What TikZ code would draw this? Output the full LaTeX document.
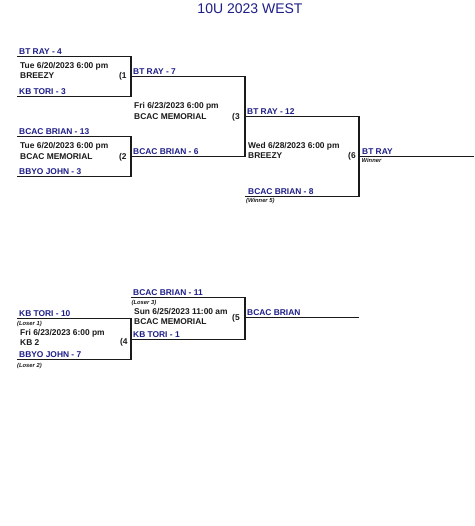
\documentclass[tikz,border=0pt]{standalone}
\usepackage{fontspec}
\setmainfont{Liberation Sans}
\definecolor{navy}{HTML}{1E1E88}
\definecolor{ink}{HTML}{1A1A1A}
\begin{document}
\begin{tikzpicture}[x=1pt,y=-1pt,
  team/.style={font=\bfseries\fontsize{8.4}{9}\selectfont, text=navy, anchor=base west, inner sep=0pt},
  info/.style={font=\bfseries\fontsize{8.4}{9}\selectfont, text=ink, anchor=base west, inner sep=0pt},
  note/.style={font=\bfseries\itshape\fontsize{5.8}{6}\selectfont, text=ink, anchor=base west, inner sep=0pt},
  bline/.style={draw=ink, line width=1.2pt},
  title/.style={font=\fontsize{14}{16}\selectfont, text=navy, anchor=base, inner sep=0pt}]
\fill[white] (0,0) rectangle (474,526);
\useasboundingbox (0,0) rectangle (474,526);

\node[title] (ttl) at (250,14) {10U 2023 WEST};

% coordinates
\coordinate (m1a) at (17,56.7);  \coordinate (m1b) at (131,56.7);
\coordinate (m1c) at (131,96.7); \coordinate (m1d) at (17,96.7);
\coordinate (m1o) at (131,76.7);
\coordinate (m2a) at (17,136.7);  \coordinate (m2b) at (131,136.7);
\coordinate (m2c) at (131,176.7); \coordinate (m2d) at (17,176.7);
\coordinate (m2o) at (131,156.7);
\coordinate (m3a) at (245,76.7); \coordinate (m3c) at (245,156.7);
\coordinate (m3o) at (245,116.7);
\coordinate (m6a) at (359,116.7); \coordinate (m6c) at (359,196.7);
\coordinate (m6d) at (245,196.7); \coordinate (m6o) at (359,156.7);
\coordinate (m6e) at (474,156.7);
\coordinate (m4a) at (17,318.3);  \coordinate (m4b) at (131,318.3);
\coordinate (m4c) at (131,359.7); \coordinate (m4d) at (17,359.7);
\coordinate (m4o) at (131,339.3);
\coordinate (m5a) at (131,297.3); \coordinate (m5b) at (245,297.3);
\coordinate (m5c) at (245,339.3); \coordinate (m5o) at (245,317.7);
\coordinate (m5e) at (359,317.7);

% bracket lines
\draw[bline] (m1a) -- (m1b) -- (m1c) -- (m1d);
\draw[bline] (m2a) -- (m2b) -- (m2c) -- (m2d);
\draw[bline] (m1o) -- (m3a) -- (m3c) -- (m2o);
\draw[bline] (m3o) -- (m6a) -- (m6c) -- (m6d);
\draw[bline] (m6o) -- (m6e);
\draw[bline] (m4a) -- (m4b) -- (m4c) -- (m4d);
\draw[bline] (m4o) -- (m5c) -- (m5b) -- (m5a);
\draw[bline] (m5o) -- (m5e);

% match 1
\node[team] (t1) at (19,55) {BT RAY - 4};
\node[info] (g1d) at (20,68.5) {Tue 6/20/2023 6:00 pm};
\node[info] (g1l) at (20,79) {BREEZY};
\node[info] (g1n) at (119,79) {(1};
\node[team] (t2) at (19,94.5) {KB TORI - 3};
% match 2
\node[team] (t3) at (19,134.5) {BCAC BRIAN - 13};
\node[info] (g2d) at (20,149) {Tue 6/20/2023 6:00 pm};
\node[info] (g2l) at (20,160) {BCAC MEMORIAL};
\node[info] (g2n) at (119,159.5) {(2};
\node[team] (t4) at (19,174.5) {BBYO JOHN - 3};
% match 3
\node[team] (t5) at (133,74.5) {BT RAY - 7};
\node[info] (g3d) at (134,109) {Fri 6/23/2023 6:00 pm};
\node[info] (g3l) at (134,120) {BCAC MEMORIAL};
\node[info] (g3n) at (232,120) {(3};
\node[team] (t6) at (133,154.5) {BCAC BRIAN - 6};
% match 6
\node[team] (t7) at (247,114.5) {BT RAY - 12};
\node[info] (g6d) at (248,149) {Wed 6/28/2023 6:00 pm};
\node[info] (g6l) at (248,159) {BREEZY};
\node[info] (g6n) at (348,159) {(6};
\node[team] (t8) at (248,194.5) {BCAC BRIAN - 8};
\node[note] (n5) at (246,202.5) {(Winner 5)};
\node[team] (t9) at (362,154.5) {BT RAY};
\node[note] (nw) at (361.5,163) {Winner};
% match 4
\node[team] (t10) at (19,316) {KB TORI - 10};
\node[note] (l1) at (17,325) {(Loser 1)};
\node[info] (g4d) at (20,335) {Fri 6/23/2023 6:00 pm};
\node[info] (g4l) at (20,345) {KB 2};
\node[info] (g4n) at (120,344) {(4};
\node[team] (t11) at (19,357.5) {BBYO JOHN - 7};
\node[note] (l2) at (17,367.5) {(Loser 2)};
% match 5
\node[team] (t12) at (133,295) {BCAC BRIAN - 11};
\node[note] (l3) at (131.5,304) {(Loser 3)};
\node[info] (g5d) at (134,314.5) {Sun 6/25/2023 11:00 am};
\node[info] (g5l) at (134,324.5) {BCAC MEMORIAL};
\node[info] (g5n) at (232,320.5) {(5};
\node[team] (t13) at (133,337) {KB TORI - 1};
\node[team] (t14) at (247,315.5) {BCAC BRIAN};
\end{tikzpicture}
\end{document}
